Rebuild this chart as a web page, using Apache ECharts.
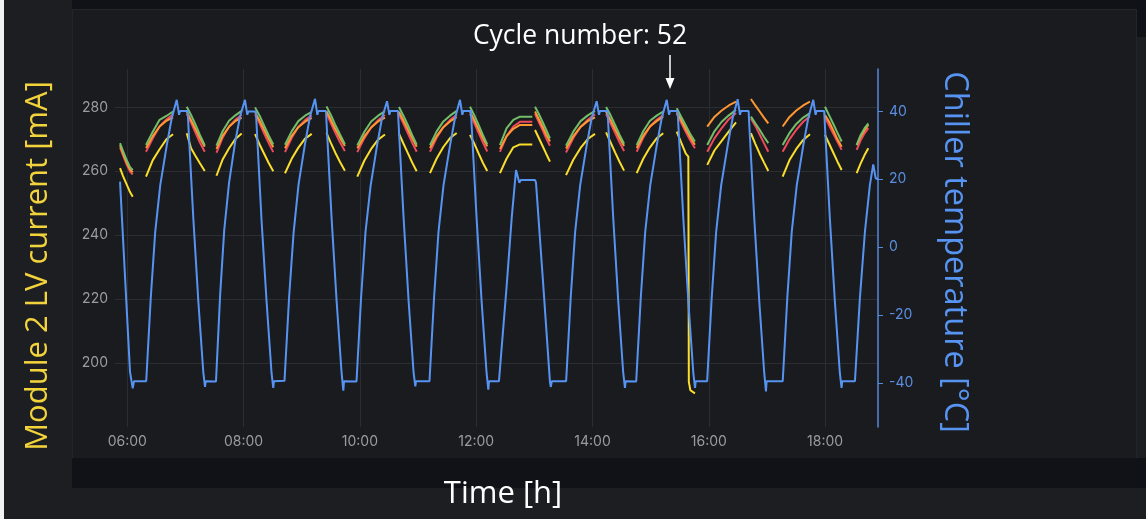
<!DOCTYPE html>
<html>
<head>
<meta charset="utf-8">
<script src="https://cdn.jsdelivr.net/npm/echarts@6/dist/echarts.min.js"></script>
<style>
html, body { margin: 0; padding: 0; background: #1d1e22; }
#wrap { position: relative; width: 1146px; height: 519px; overflow: hidden; background: #1d1e22; }
.blk { position: absolute; }
#chart { position: absolute; left: 0; top: 0; width: 1146px; height: 519px; }
</style>
</head>
<body>
<div id="wrap">
  <div class="blk" style="left:0;top:0;width:4px;height:519px;background:#f2f2f2"></div>
  <div class="blk" style="left:72px;top:0;width:1074px;height:9px;background:#111217"></div>
  <div class="blk" style="left:72px;top:9px;width:1063px;height:448px;background:#1a1b1f;border:1px solid #24252a"></div>
  <div class="blk" style="left:72px;top:458px;width:1074px;height:30px;background:#111217"></div>
  <div class="blk" style="left:1137px;top:9px;width:9px;height:28px;background:#111217"></div>
  <div id="chart"></div>
</div>
<script>
// time in minutes since 00:00
const xTicks = [360, 480, 600, 720, 840, 960, 1080];
const leftTicks = [200, 220, 240, 260, 280];
const rightTicks = [-40, -20, 0, 20, 40];

// chiller temperature [°C]
const tempTimes = [
  352.5, 362.8, 365.6, 366.9,
  379.5, 384.2, 388.8, 394.0, 400.7, 405.8, 411.0, 413.4, 414.4, 422.3, 423.0, 428.1, 433.3, 438.4, 440.2, 440.9,
  451.5, 455.8, 460.0, 465.0, 471.3, 476.3, 481.4, 483.8, 484.8, 492.7, 493.4, 498.5, 503.7, 508.8, 510.6, 511.3,
  522.2, 526.9, 531.5, 536.7, 543.4, 548.5, 553.7, 556.1, 557.1, 565.0, 565.7, 570.8, 576.0, 581.1, 582.9, 583.6,
  596.5, 601.2, 605.8, 611.0, 617.7, 622.8, 628.0, 630.4, 631.4, 639.3, 640.0, 645.1, 650.3, 655.4, 657.2, 657.9,
  671.8, 676.5, 681.1, 686.3, 693.0, 698.1, 703.3, 705.7, 706.7, 714.6, 715.3, 720.4, 725.6, 730.7, 732.5, 733.2,
  743.5, 751.5, 756.6, 761.1, 764.5, 766.0, 780.7, 781.7, 789.2, 796.1, 797.0, 798.0,
  812.8, 817.5, 822.1, 827.3, 834.0, 839.1, 844.3, 846.7, 847.7, 855.6, 856.3, 861.4, 866.6, 871.7, 873.5, 874.2,
  885.1, 889.8, 894.4, 899.6, 906.3, 911.4, 916.6, 919.0, 920.0, 927.9, 928.6, 933.7, 938.9, 944.0, 945.8, 946.5,
  958.3, 963.0, 967.6, 972.8, 979.5, 984.6, 989.8, 992.2, 993.2, 1001.1, 1001.8, 1006.9, 1012.1, 1017.2, 1019.0, 1019.7,
  1036.3, 1041.0, 1045.6, 1050.8, 1057.5, 1062.6, 1067.8, 1070.2, 1071.2, 1079.1, 1079.8, 1084.9, 1090.1, 1095.2, 1097.0, 1097.7,
  1110.8, 1115.9, 1121.1, 1126.2, 1129.7, 1132.2, 1134.8
];
const tempValues = [
  19.3, -36.8, -41.6, -39.5,
  -39.5, -15, 4.5, 18.3, 30, 38, 43.4, 39, 40.1, 40.1, 36, 8.6, -16, -36.8, -41.2, -39.5,
  -39.6, -14, 5, 19, 31, 38.5, 43.4, 39, 40, 40, 36, 8, -16, -37, -41.5, -39.5,
  -39.4, -15, 4, 18.5, 30.5, 38.5, 43.7, 39, 40.1, 40.1, 36, 8.5, -16, -37, -42.3, -39.5,
  -39.6, -15, 4.5, 18, 30, 38, 43, 39, 40.1, 40.1, 36, 8.6, -16, -37, -41, -39.5,
  -39.5, -15, 4.5, 18.3, 30, 38, 43.4, 39, 40.1, 40.1, 36, 8.6, -16, -37, -42, -39.5,
  -39.5, -11.2, 8.5, 22.7, 19, 19.8, 19.8, 19, -11.2, -39.7, -41.2, -39.5,
  -39.5, -15, 4.5, 18.3, 30, 38, 43, 39, 40.1, 40.1, 36, 8.6, -16, -37, -41.5, -39.5,
  -39.6, -15, 4.5, 18.3, 30, 38, 43.4, 39, 40.1, 40.1, 36, 8.6, -16, -37, -41.5, -39.5,
  -39.5, -15, 4.5, 18.3, 30, 38, 43.6, 39, 40.1, 40.1, 36, 8.6, -16, -37, -42.5, -39.5,
  -39.5, -15, 4.5, 18.3, 30, 38, 43.4, 39, 40.1, 40.1, 36, 8.6, -16, -37, -41.5, -39.5,
  -39.5, -15.1, 4.5, 18.3, 24.4, 20.3, 20
];

// module 2 LV current [mA], segments separated by null
const curTimes = [
  352.5, 355.6, 359.2, 362.8, 365.6, null,
  379.3, 386.3, 393.3, 400.3, 407.2, null,
  421.3, 425.8, 430.4, 434.9, 439.9, null,
  452.0, 458.5, 465.0, 471.5, 478.0, null,
  491.8, 496.5, 501.2, 505.9, 510.6, null,
  522.7, 529.6, 536.5, 543.4, 550.3, null,
  565.5, 570.0, 574.5, 579.5, 584.5, null,
  597.3, 604.5, 611.6, 618.8, 625.9, null,
  640.3, 644.9, 649.5, 654.0, 658.6, null,
  672.3, 679.2, 686.1, 693.0, 699.9, null,
  713.6, 718.1, 722.5, 727.0, 731.4, null,
  744.5, 751.4, 758.3, 765.2, 777.9, null,
  780.7, 784.5, 788.4, 792.2, 796.1, null,
  812.7, 820.2, 827.7, 835.1, 842.6, null,
  854.0, 858.7, 863.3, 868.0, 872.6, null,
  885.6, 892.5, 899.3, 906.2, 913.0, null,
  926.9, 931.6, 936.3, 938.9, 939.4, 941.0, 945.7, null,
  958.4, 965.8, 973.3, 980.7, 988.1, null,
  1003.5, 1008.0, 1012.5, 1016.9, 1021.4, null,
  1036.2, 1043.3, 1050.3, 1057.4, 1064.4, null,
  1079.9, 1084.2, 1088.5, 1092.8, 1097.1, null,
  1112.6, 1116.6, 1120.6, 1124.6
];
const greenCur = [
  268.8, 266.3, 263.6, 261.3, 260.4, null,
  268.2, 272.4, 276.1, 277.3, 278.7, null,
  280.2, 277.6, 274.6, 271.4, 268.2, null,
  268.0, 272.6, 275.8, 277.5, 278.9, null,
  280.0, 277.4, 274.3, 271.2, 268.4, null,
  268.3, 272.5, 275.7, 277.4, 278.6, null,
  280.3, 277.6, 274.6, 271.5, 268.5, null,
  268.1, 272.3, 275.6, 277.4, 278.8, null,
  280.1, 277.4, 274.4, 271.3, 268.3, null,
  268.2, 272.5, 275.6, 277.4, 278.9, null,
  280.2, 277.5, 274.5, 271.3, 268.4, null,
  268.2, 273.5, 276.1, 277.1, 277.1, null,
  280.2, 278.0, 275.5, 273.0, 270.3, null,
  268.0, 272.4, 275.7, 277.5, 278.9, null,
  280.1, 277.5, 274.5, 271.4, 268.6, null,
  268.2, 272.6, 275.8, 277.4, 278.7, null,
  279.7, 277.0, 274.3, 272.8, 272.5, 271.6, 269.3, null,
  268.2, 272.5, 275.5, 277.5, 279.2, null,
  277.1, 275.0, 273.0, 270.8, 268.8, null,
  268.2, 272.0, 274.8, 276.8, 278.2, null,
  280.2, 277.5, 274.8, 272.0, 269.3, null,
  268.2, 271.3, 273.4, 275.0
];
const redCur = [
  267.5, 265.0, 262.2, 259.9, 259.0, null,
  266.1, 270.3, 274.0, 276.2, 277.8, null,
  278.0, 275.2, 272.0, 269.0, 266.1, null,
  265.8, 270.6, 274.0, 276.1, 277.7, null,
  277.8, 275.0, 271.8, 268.8, 266.0, null,
  266.0, 270.4, 273.9, 276.0, 277.5, null,
  278.1, 275.1, 272.1, 269.1, 266.3, null,
  266.0, 270.3, 273.7, 276.0, 277.6, null,
  277.9, 274.9, 271.9, 268.9, 266.1, null,
  266.1, 270.5, 273.8, 276.0, 277.7, null,
  278.0, 275.0, 272.0, 269.0, 266.2, null,
  266.1, 271.0, 274.0, 275.5, 275.5, null,
  278.0, 275.5, 273.0, 270.3, 268.0, null,
  265.9, 270.4, 273.9, 276.1, 277.8, null,
  277.9, 275.0, 272.0, 269.0, 266.3, null,
  266.1, 270.6, 274.0, 276.1, 277.6, null,
  278.0, 275.2, 272.3, 270.8, 270.5, 269.6, 267.2, null,
  266.1, 270.3, 273.5, 276.3, 278.2, null,
  276.5, 274.2, 271.5, 268.8, 266.1, null,
  266.1, 270.0, 273.0, 275.5, 277.2, null,
  276.9, 274.3, 271.7, 269.2, 266.7, null,
  266.7, 269.6, 271.8, 273.5
];
const orangeCur = [
  268.2, 265.6, 262.8, 260.6, 259.7, null,
  267.3, 271.0, 274.0, 275.8, 276.9, null,
  278.7, 276.0, 273.2, 270.4, 267.7, null,
  267.0, 271.2, 273.9, 275.7, 276.8, null,
  278.5, 275.8, 273.0, 270.2, 267.5, null,
  267.2, 271.1, 273.8, 275.5, 276.7, null,
  278.8, 276.1, 273.3, 270.5, 267.9, null,
  267.2, 270.9, 273.7, 275.6, 276.8, null,
  278.6, 275.9, 273.1, 270.3, 267.7, null,
  267.3, 271.0, 273.8, 275.6, 276.9, null,
  278.7, 276.0, 273.2, 270.3, 267.8, null,
  267.0, 271.0, 273.3, 274.5, 274.5, null,
  278.7, 276.4, 274.0, 271.5, 269.3, null,
  267.1, 271.0, 273.9, 275.7, 276.9, null,
  278.6, 276.0, 273.2, 270.4, 267.9, null,
  267.3, 271.2, 274.0, 275.7, 277.1, null,
  278.5, 276.0, 273.2, 271.8, 271.5, 270.6, 268.3, null,
  274.0, 277.0, 279.0, 280.6, 281.8, null,
  282.6, 280.6, 278.7, 276.8, 275.0, null,
  274.0, 277.0, 279.0, 280.6, 281.8, null,
  277.6, 275.5, 272.8, 270.0, 267.7, null,
  268.2, 270.8, 272.8, 274.5
];
const yellowCur = [
  261.0, 258.5, 256.0, 253.5, 252.0, null,
  258.3, 263.5, 266.9, 270.0, 271.6, null,
  271.9, 267.2, 264.8, 262.5, 260.1, null,
  258.6, 263.8, 267.2, 270.1, 271.8, null,
  271.6, 268.4, 265.5, 262.6, 260.0, null,
  259.4, 263.9, 267.4, 270.2, 271.7, null,
  272.0, 268.9, 265.9, 262.9, 260.2, null,
  258.3, 263.3, 267.0, 269.9, 271.5, null,
  271.8, 268.7, 265.7, 262.7, 260.0, null,
  259.4, 264.0, 267.6, 270.4, 272.0, null,
  271.4, 268.6, 265.6, 262.6, 260.1, null,
  259.4, 264.0, 267.5, 268.4, 268.4, null,
  272.9, 270.5, 268.0, 265.5, 263.0, null,
  258.8, 263.6, 267.3, 270.1, 271.7, null,
  272.2, 269.0, 265.9, 262.9, 260.2, null,
  259.4, 264.0, 267.5, 270.3, 271.9, null,
  272.4, 269.0, 265.5, 264.6, 194.1, 191.5, 190.5, null,
  262.0, 266.5, 269.5, 272.5, 275.3, null,
  271.9, 268.6, 265.5, 262.8, 260.1, null,
  258.3, 263.5, 267.0, 269.8, 271.6, null,
  271.4, 268.6, 265.8, 263.0, 260.4, null,
  259.4, 262.4, 265.0, 267.2
];

function pairs(times, vals) {
  return times.map((t, i) => (t == null || vals[i] == null) ? ['-', '-'] : [t, vals[i]]);
}
function hhmm(v) {
  return String(Math.floor(v / 60)).padStart(2, '0') + ':00';
}

const chart = echarts.init(document.getElementById('chart'), null, { renderer: 'canvas' });
const lbl = { color: '#9a9ca3', fontSize: 14, fontFamily: 'Inter' };
const gridLine = { show: true, lineStyle: { color: '#2b2d32', width: 1 } };
const titleFont = 'Open Sans';

function curSeries(name, color, vals) {
  return {
    name: name,
    type: 'line',
    yAxisIndex: 0,
    showSymbol: false,
    connectNulls: false,
    lineStyle: { width: 2, color: color },
    itemStyle: { color: color },
    data: pairs(curTimes, vals),
    animation: false
  };
}

chart.setOption({
  backgroundColor: 'transparent',
  animation: false,
  grid: { left: 115, right: 268, top: 69, bottom: 92, containLabel: false },
  xAxis: {
    type: 'value',
    min: 347.3,
    max: 1134.6,
    axisLine: { show: false },
    axisTick: { show: false, customValues: xTicks },
    axisLabel: Object.assign({ customValues: xTicks, margin: 8, formatter: hhmm }, lbl),
    splitLine: gridLine
  },
  yAxis: [
    {
      type: 'value',
      min: 180,
      max: 292,
      axisLine: { show: false },
      axisTick: { show: false, customValues: leftTicks },
      axisLabel: Object.assign({ customValues: leftTicks, margin: 7 }, lbl),
      splitLine: gridLine
    },
    {
      type: 'value',
      position: 'right',
      min: -53,
      max: 52.5,
      axisLine: { show: true, lineStyle: { color: '#5589dc', width: 1.5 } },
      axisTick: { show: true, length: 5, customValues: rightTicks, lineStyle: { color: '#5589dc' } },
      axisLabel: { customValues: rightTicks, margin: 11, color: '#5b8ee0', fontSize: 14, fontFamily: 'Inter' },
      splitLine: { show: false }
    }
  ],
  series: [
    curSeries('yellow', '#FADE2A', yellowCur),
    curSeries('red', '#F2495C', redCur),
    curSeries('orange', '#FF9830', orangeCur),
    curSeries('green', '#73BF69', greenCur),
    {
      name: 'Chiller temperature',
      type: 'line',
      yAxisIndex: 1,
      showSymbol: false,
      lineStyle: { width: 2, color: '#5794F2' },
      itemStyle: { color: '#5794F2' },
      data: pairs(tempTimes, tempValues),
      animation: false
    }
  ],
  graphic: [
    {
      type: 'text', x: 38, y: 266, rotation: Math.PI / 2,
      style: { text: 'Module 2 LV current [mA]', fill: '#F2D33C', fontSize: 31, fontFamily: titleFont, align: 'center', verticalAlign: 'middle' }
    },
    {
      type: 'text', x: 954, y: 252, rotation: -Math.PI / 2,
      style: { text: 'Chiller temperature [°C]', fill: '#5794F2', fontSize: 32.5, fontFamily: titleFont, align: 'center', verticalAlign: 'middle' }
    },
    {
      type: 'text', x: 580, y: 36,
      style: { text: 'Cycle number: 52', fill: '#ffffff', fontSize: 26.5, fontFamily: titleFont, align: 'center', verticalAlign: 'middle' }
    },
    {
      type: 'line', shape: { x1: 670, y1: 55, x2: 670, y2: 80 },
      style: { stroke: '#ffffff', lineWidth: 1.5 }
    },
    {
      type: 'polygon', shape: { points: [[665.5, 78], [674.5, 78], [670, 89]] },
      style: { fill: '#ffffff' }
    },
    {
      type: 'text', x: 503, y: 494,
      style: { text: 'Time [h]', fill: '#ffffff', fontSize: 31, fontFamily: titleFont, align: 'center', verticalAlign: 'middle' }
    }
  ]
});
</script>
</body>
</html>
